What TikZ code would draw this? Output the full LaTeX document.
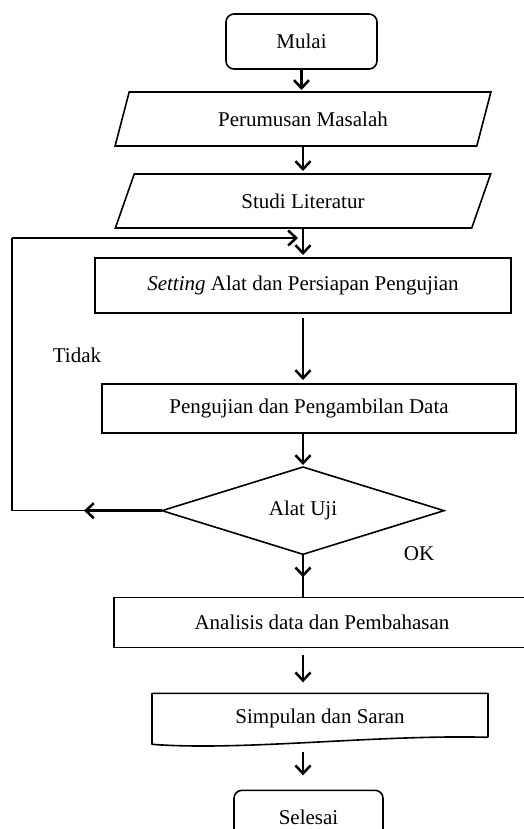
\documentclass[tikz,border=0pt]{standalone}
\usepackage{fontspec}
\setmainfont{Liberation Serif}
\usetikzlibrary{shapes.geometric, arrows.meta, positioning}

\begin{document}
\begin{tikzpicture}[
    x=1pt, y=-1pt, outer sep=0pt,
    font=\fontsize{21}{25}\selectfont,
    terminal/.style={rectangle, draw, line width=1.6pt, rounded corners=8pt,
                 minimum width=151pt, minimum height=55pt, inner sep=0pt},
    inout/.style={trapezium, draw, line width=1.6pt, trapezium left angle=65,
                 trapezium right angle=115, trapezium stretches=true,
                 minimum width=376pt, minimum height=54pt, inner sep=0pt},
    process/.style={rectangle, draw, line width=1.6pt, minimum width=416pt,
                 minimum height=55pt, inner sep=0pt},
    decision/.style={diamond, draw, line width=1.6pt, minimum width=282pt,
                 minimum height=80pt, inner sep=0pt},
    flowline/.style={line width=1.5pt},
    flowarrow/.style={line width=2.5pt, -{Straight Barb[length=8pt,width=15pt]}}
]
    \useasboundingbox (0,0) rectangle (524,829);
    \clip (0,0) rectangle (524,829);

    \node[terminal] (mulai) at (301.5,41.5) {Mulai};
    \node[inout, below=23pt of mulai, xshift=1.5pt] (masalah) {Perumusan Masalah};
    \node[inout, below=28pt of masalah] (literatur) {Studi Literatur};
    \node[process, below=30pt of literatur] (setting) {\textit{Setting} Alat dan Persiapan Pengujian};
    \node[process, minimum width=414pt, minimum height=49pt, below=71pt of setting, xshift=6pt] (pengujian) {Pengujian dan Pengambilan Data};
    \node[decision, below=34pt of pengujian, xshift=-6pt] (alatuji) {Alat Uji};
    \node[process, minimum height=50pt, below=43pt of alatuji, xshift=19pt] (analisis) {Analisis data dan Pembahasan};
    \node[process, draw=none, minimum width=336pt, minimum height=51pt, below=46pt of analisis, xshift=-2pt] (simpulan) {Simpulan dan Saran};
    \node[terminal, minimum width=149pt, below=46pt of simpulan, xshift=-11.5pt] (selesai) {Selesai};

    \node (tidak) at (77,355) {Tidak};
    \node (ok) at (419,554) {OK};

    % document shape with wavy bottom
    \draw[line width=1.6pt, line join=round] ([yshift=7pt]simpulan.south east) -- (simpulan.north east)
        -- (simpulan.north west) -- (simpulan.south west)
        .. controls ([xshift=90pt,yshift=-7pt]simpulan.south west) and ([xshift=-110pt,yshift=10pt]simpulan.south east)
        .. ([yshift=7pt]simpulan.south east);

    \coordinate (backtip) at ([xshift=-78pt]alatuji.west);
    \coordinate (loopbottom) at (alatuji.west -| 12,0);
    \coordinate (looptop) at (12,238);
    \coordinate (loopend) at (298,238);
    \coordinate (okarrow) at ([yshift=-23pt]alatuji.south);

    \draw[flowarrow, shorten >=2pt] (mulai.south) -- (mulai.south |- masalah.north);
    \draw[flowarrow, shorten >=3pt] (masalah.south) -- (literatur.north);
    \draw[flowarrow, shorten >=3pt] (literatur.south) -- (literatur.south |- setting.north);
    \draw[flowarrow, shorten <=5pt, shorten >=4pt] (setting.south) -- (setting.south |- pengujian.north);
    \draw[flowarrow, shorten >=2pt] (alatuji.north |- pengujian.south) -- (alatuji.north);
    \draw[flowline] (alatuji.south) -- (alatuji.south |- analisis.north);
    \draw[flowarrow] (alatuji.south) -- (okarrow);
    \draw[flowarrow, shorten <=8pt, shorten >=11pt] (analisis.south -| alatuji.south) -- (alatuji.south |- simpulan.north);
    \draw[flowarrow, shorten <=8pt, shorten >=15pt] (alatuji.south |- simpulan.south) -- (alatuji.south |- selesai.north);

    \draw[flowarrow] (alatuji.west) -- (backtip);
    \draw[flowline] (backtip) -- (loopbottom) -- (looptop);
    \draw[flowarrow] (looptop) -- (loopend);
\end{tikzpicture}
\end{document}
